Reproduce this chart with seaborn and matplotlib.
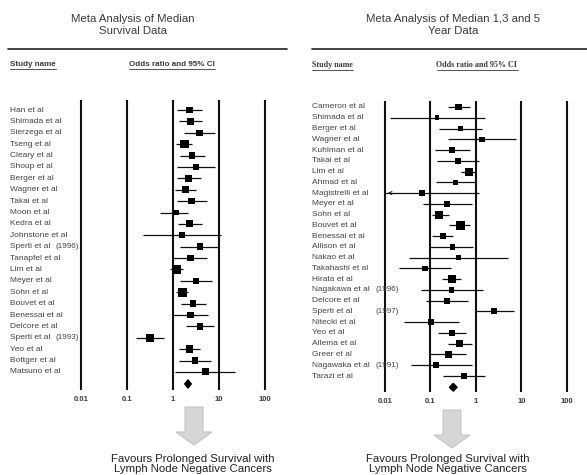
import numpy as np
import pandas as pd
import matplotlib
matplotlib.use("Agg")
import matplotlib.pyplot as plt
import seaborn as sns
from matplotlib.transforms import blended_transform_factory
from matplotlib.patches import Polygon
from matplotlib.lines import Line2D

# ---------------- data: left panel (median survival) ----------------
left_studies = ["Han et al", "Shimada et al", "Sierzega et al", "Tseng et al", "Cleary et al",
                "Shoup et al", "Berger et al", "Wagner et al", "Takai et al", "Moon et al",
                "Kedra et al", "Johnstone et al", "Sperti et al", "Tanapfel et al", "Lim et al",
                "Meyer et al", "Sohn et al", "Bouvet et al", "Benessai et al", "Delcore et al",
                "Sperti et al", "Yeo et al", "Bottger et al", "Matsuno et al"]
left_years = ["", "", "", "", "", "", "", "", "", "", "", "", "(1996)", "", "", "", "", "", "",
              "", "(1993)", "", "", ""]
left_or = [2.29, 2.37, 3.76, 1.76, 2.61, 3.14, 2.21, 1.88, 2.53, 1.16, 2.29, 1.54, 3.83, 2.41,
           1.18, 3.14, 1.59, 2.70, 2.41, 3.89, 0.313, 2.29, 3.03, 4.99]
left_lo = [1.24, 1.35, 1.76, 1.18, 1.42, 1.24, 1.20, 1.09, 1.20, 0.51, 1.26, 0.218, 1.44, 1.00,
           0.85, 1.42, 1.18, 1.46, 1.00, 1.91, 0.159, 1.35, 1.35, 1.09]
left_hi = [4.37, 4.37, 8.06, 2.57, 5.06, 8.06, 4.15, 3.24, 5.42, 2.14, 4.30, 11.2, 10.0, 5.42,
           1.62, 7.18, 2.11, 5.24, 5.69, 7.93, 0.64, 3.83, 6.70, 22.2]
left_weight = [4.9, 4.9, 4.2, 7.2, 4.2, 4.2, 4.9, 5.6, 4.2, 3.0, 4.9, 3.6, 4.2, 4.2, 8.1, 4.2,
               8.1, 4.2, 4.2, 4.2, 5.6, 5.6, 4.2, 4.9]
left_pooled = [2.11, 1.80, 2.50]   # estimate, lower, upper

# ---------------- data: right panel (1, 3 and 5 year) ----------------
right_studies = ["Cameron et al", "Shimada et al", "Berger et al", "Wagner et al", "Kuhlman et al",
                 "Takai et al", "Lim et al", "Ahmad et al", "Magistrelli et al", "Meyer et al",
                 "Sohn et al", "Bouvet et al", "Benessai et al", "Allison et al", "Nakao et al",
                 "Takahashi et al", "Hirata et al", "Nagakawa et al", "Delcore et al",
                 "Sperti et al", "Nitecki et al", "Yeo et al", "Allema et al", "Greer et al",
                 "Nagawaka et al", "Tarazi et al"]
right_years = ["", "", "", "", "", "", "", "", "", "", "", "", "", "", "", "", "", "(1996)", "",
               "(1997)", "", "", "", "", "(1991)", ""]
right_or = [0.417, 0.14, 0.454, 1.35, 0.303, 0.404, 0.70, 0.359, 0.0646, 0.232, 0.157, 0.461,
            0.193, 0.308, 0.404, 0.0764, 0.293, 0.293, 0.232, 2.48, 0.103, 0.293, 0.439, 0.248,
            0.129, 0.546]
right_lo = [0.24, 0.0129, 0.152, 0.24, 0.126, 0.138, 0.47, 0.135, 0.004, 0.068, 0.109, 0.252,
            0.109, 0.10, 0.034, 0.0206, 0.183, 0.0613, 0.080, 0.935, 0.026, 0.147, 0.24, 0.10,
            0.0365, 0.186]
right_hi = [0.75, 1.55, 1.38, 7.64, 0.74, 1.18, 1.00, 1.00, 1.18, 0.80, 0.252, 0.75, 0.314,
            0.845, 4.94, 0.284, 0.477, 1.45, 0.657, 6.9, 0.42, 0.594, 0.83, 0.594, 0.80, 1.60]
right_weight = [4.5, 2.2, 3.0, 3.0, 3.6, 3.0, 6.4, 3.0, 3.0, 3.0, 6.4, 7.2, 3.6, 3.0, 2.5, 3.0,
                6.4, 3.0, 3.6, 3.6, 3.6, 4.2, 5.6, 4.2, 3.6, 3.6]
right_pooled = [0.316, 0.26, 0.385]

tick_values = [0.01, 0.1, 1, 10, 100]
tick_labels = ["0.01", "0.1", "1", "10", "100"]

left_title = "Meta Analysis of Median\nSurvival Data"
right_title = "Meta Analysis of Median 1,3 and 5\nYear Data"
footer = "Favours Prolonged Survival with\nLymph Node Negative Cancers"

# ---------------- figure ----------------
sns.set_style("white")
plt.rcParams["font.family"] = ["Liberation Sans", "DejaVu Sans"]

W, H = 587, 475
fig = plt.figure(figsize=(W / 100, H / 100), dpi=100)
fig.patch.set_facecolor("white")

TXT = "#3a3a3a"


def fx(x):
    return x / W


def fy(y):
    return 1 - y / H


def make_panel(px0, px_per_dec, ytop, ybot, row0, row_step, studies, years, ors, los, his,
               weights, pooled, label_x, year_x):
    left_px = px0 - 0.2 * px_per_dec
    right_px = px0 + 4.2 * px_per_dec
    ax = fig.add_axes([fx(left_px), fy(ybot), (right_px - left_px) / W, (ybot - ytop) / H])
    ax.set_xscale("log")
    ax.set_xlim(10 ** -2.2, 10 ** 2.2)
    r_top = (ytop - row0) / row_step
    r_bot = (ybot - row0) / row_step
    ax.set_ylim(r_bot, r_top)
    ax.patch.set_alpha(0)
    for s in ax.spines.values():
        s.set_visible(False)

    for v in tick_values:
        ax.axvline(v, color="#111111", lw=1.5, zorder=1)

    n = len(studies)
    rows = np.arange(n)
    df = pd.DataFrame({"row": rows, "or": ors, "lo": los, "hi": his, "w": weights})

    lo_clip = np.maximum(df["lo"].values, 0.01)
    ax.hlines(df["row"], lo_clip, df["hi"], color="#111111", lw=0.9, zorder=2)
    for r, lo in zip(rows, df["lo"].values):
        if lo < 0.01:
            ax.annotate("", xy=(0.01, r), xytext=(0.016, r),
                        arrowprops=dict(arrowstyle="->", color="#111111", lw=0.6,
                                        mutation_scale=6), zorder=3)

    sns.scatterplot(data=df, x="or", y="row", size="w", sizes=(0, 51.8), size_norm=(0, 10),
                    marker="s", color="black", edgecolor="black", linewidth=0, legend=False,
                    ax=ax, zorder=4)

    est, plo, phi = pooled
    yd = n + 0.05
    hh = 0.36
    ax.fill([plo, est, phi, est], [yd, yd - hh, yd, yd + hh], color="black", zorder=4,
            clip_on=False)

    ax.set_xticks(tick_values)
    ax.set_xticklabels(tick_labels, fontsize=5.5, fontweight="bold", color=TXT)
    ax.minorticks_off()
    ax.tick_params(axis="x", length=0, pad=4)
    ax.set_yticks([])
    ax.set_xlabel("")
    ax.set_ylabel("")

    tr = blended_transform_factory(fig.transFigure, ax.transData)
    for r, name, yr in zip(rows, studies, years):
        ax.text(fx(label_x), r, name, transform=tr, fontsize=6.0, color="#444444",
                va="center", ha="left", clip_on=False)
        if yr:
            ax.text(fx(year_x), r, yr, transform=tr, fontsize=5.8, color="#444444",
                    va="center", ha="left", clip_on=False)
    return ax


make_panel(81, 46.0, 100, 390, 110, 11.39, left_studies, left_years, left_or, left_lo,
           left_hi, left_weight, left_pooled, 10, 56)
make_panel(385, 45.5, 101, 392, 107, 10.76, right_studies, right_years, right_or, right_lo,
           right_hi, right_weight, right_pooled, 312, 375)

fig.text(fx(133), fy(25), left_title, ha="center", va="center", fontsize=8.2, color=TXT,
         linespacing=1.15)
fig.text(fx(453), fy(25), right_title, ha="center", va="center", fontsize=8.2, color=TXT,
         linespacing=1.15)

fig.add_artist(Line2D([fx(8), fx(287)], [fy(49), fy(49)], color="#222222", lw=1.2,
                      transform=fig.transFigure))
fig.add_artist(Line2D([fx(312), fx(587)], [fy(49), fy(49)], color="#222222", lw=1.2,
                      transform=fig.transFigure))

heads = [
    fig.text(fx(10), fy(65), "Study name", fontsize=5.8, fontweight="bold", color=TXT,
             va="center", ha="left"),
    fig.text(fx(172), fy(65), "Odds ratio and 95% CI", fontsize=5.8, fontweight="bold",
             color=TXT, va="center", ha="center"),
    fig.text(fx(312), fy(65), "Study name", fontsize=5.8, fontweight="bold", color=TXT,
             va="center", ha="left", family=["Liberation Serif", "DejaVu Serif"]),
    fig.text(fx(477), fy(65), "Odds ratio and 95% CI", fontsize=5.8, fontweight="bold",
             color=TXT, va="center", ha="center", family=["Liberation Serif", "DejaVu Serif"]),
]
fig.canvas.draw()
for t in heads:
    bb = t.get_window_extent()
    yline = (bb.y0 - 0.5) / H
    fig.add_artist(Line2D([bb.x0 / W, bb.x1 / W], [yline, yline], color=TXT, lw=0.6,
                          transform=fig.transFigure))


def big_arrow(cx, top, head_y, tip):
    pts = [(cx - 9, top), (cx + 9, top), (cx + 9, head_y), (cx + 18, head_y), (cx, tip),
           (cx - 18, head_y), (cx - 9, head_y)]
    poly = Polygon([(fx(x), fy(y)) for x, y in pts], closed=True, transform=fig.transFigure,
                   facecolor="#d6d6d6", edgecolor="#c4c4c4", lw=0.8)
    fig.add_artist(poly)


big_arrow(194, 407, 432, 445)
big_arrow(452, 410, 435, 448)

fig.text(fx(193), fy(474), footer, ha="center", va="bottom", fontsize=8.2, color="#222222",
         linespacing=1.05)
fig.text(fx(448), fy(474), footer, ha="center", va="bottom", fontsize=8.2, color="#222222",
         linespacing=1.05)

fig.savefig("out.png", dpi=100, facecolor="white")
